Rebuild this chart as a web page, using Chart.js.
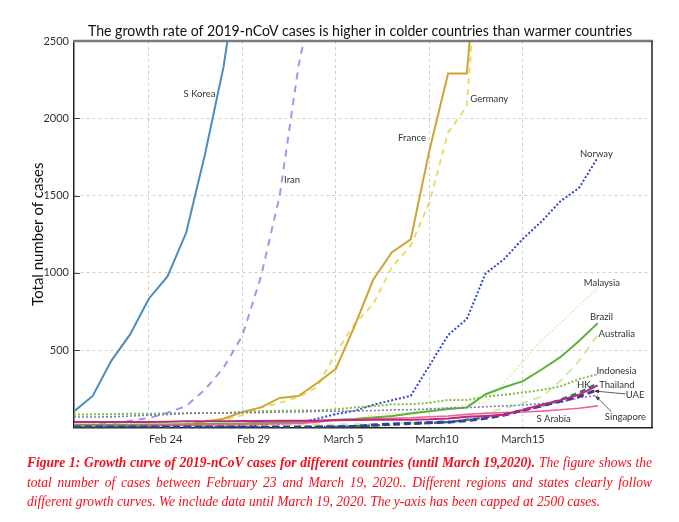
<!DOCTYPE html>
<html>
<head>
<meta charset="utf-8">
<script src="https://cdn.jsdelivr.net/npm/chart.js@4.4.1/dist/chart.umd.min.js"></script>
<style>
    body { margin: 0; background: #fff; width: 679px; height: 522px; overflow: hidden; position: relative; }
    #wrap { position: absolute; left: 0; top: 0; width: 679px; height: 455px; }
    #cap { position: absolute; left: 27px; top: 453px; width: 625px; color: #f0101e;
           font-family: 'Liberation Serif', serif; font-style: italic; font-size: 14.5px; line-height: 19.5px; }
    #cap .in { transform-origin: 0 0; }
    #cap .ln { text-align: justify; text-align-last: justify; white-space: nowrap; }
    #cap .ln.last { text-align: left; text-align-last: left; }
</style>
</head>
<body>
<div id="wrap"><canvas id="chart" width="679" height="455"></canvas></div>
<div id="cap"><div class="in" id="capIn">
    <div class="ln"><b>Figure 1: Growth curve of 2019-nCoV cases for different countries (until March 19,2020).</b> The figure shows the</div>
    <div class="ln">total number of cases between February 23 and March 19, 2020.. Different regions and states clearly follow</div>
    <div class="ln last"><span id="line3">different growth curves. We include data until March 19, 2020. The y-axis has been capped at 2500 cases.</span></div>
</div></div>
<script>
// days on the x axis (index 0 = Feb 20)
const dates = ['Feb 20', 'Feb 21', 'Feb 22', 'Feb 23', 'Feb 24', 'Feb 25', 'Feb 26', 'Feb 27', 'Feb 28', 'Feb 29',
    'Mar 1', 'Mar 2', 'Mar 3', 'Mar 4', 'Mar 5', 'Mar 6', 'Mar 7', 'Mar 8', 'Mar 9', 'Mar 10',
    'Mar 11', 'Mar 12', 'Mar 13', 'Mar 14', 'Mar 15', 'Mar 16', 'Mar 17', 'Mar 18', 'Mar 19'];
const gridDays = [4, 9, 14, 19, 24];
const tickLabels = ['Feb 24', 'Feb 29', 'March 5', 'March10', 'March15'];
const tickLabelDays = [4.9, 9.6, 14.4, 19.4, 24.0];
const yTicks = [0, 500, 1000, 1500, 2000, 2500];

// total cases per day
const sKorea = [104, 204, 433, 602, 833, 977, 1261, 1766, 2337, 3150, 3736, 4335, 5186, 5621, 6088, 6593, 7041, 7314, 7478, 7513, 7755, 7869, 7979, 8086, 8162, 8236, 8320, 8413, 8565];
const iran = [5, 18, 28, 43, 61, 95, 139, 245, 388, 593, 978, 1501, 2336, 2922, 3513, 4747, 5823, 6566, 7161, 8042, 9000, 10075, 11364, 12729, 13938, 14991, 16169, 17361, 18407];
const france = [12, 12, 12, 12, 12, 14, 18, 38, 57, 100, 130, 191, 204, 288, 380, 656, 957, 1134, 1217, 1792, 2290, 2290, 3672, 4480, 4513, 6650, 7652, 9043, 10871];
const germany = [16, 16, 16, 16, 16, 17, 27, 46, 48, 79, 130, 159, 196, 262, 482, 670, 799, 1040, 1176, 1457, 1908, 2078, 3675, 4585, 5795, 7272, 9257, 12327, 15320];
const norway = [0, 0, 0, 0, 0, 0, 1, 1, 6, 15, 19, 25, 32, 56, 87, 108, 147, 176, 205, 400, 598, 702, 996, 1090, 1221, 1333, 1463, 1550, 1746];
const malaysia = [22, 22, 22, 22, 22, 22, 22, 22, 23, 25, 29, 29, 29, 36, 50, 55, 83, 93, 99, 117, 129, 149, 160, 290, 428, 566, 673, 790, 900];
const brazil = [18, 18, 18, 18, 19, 20, 21, 22, 24, 26, 30, 35, 37, 42, 50, 55, 65, 75, 90, 105, 120, 130, 215, 260, 300, 375, 455, 560, 675];
const australia = [15, 15, 15, 15, 15, 15, 15, 15, 15, 15, 16, 17, 18, 19, 20, 21, 22, 25, 30, 37, 55, 70, 92, 125, 157, 200, 300, 430, 600];
const indonesia = [84, 85, 86, 89, 89, 91, 93, 93, 93, 102, 106, 108, 110, 110, 117, 130, 138, 150, 150, 160, 178, 178, 200, 212, 226, 243, 266, 313, 345];
const hk = [2, 2, 2, 2, 2, 2, 2, 2, 2, 2, 2, 2, 2, 3, 4, 6, 12, 18, 24, 30, 35, 50, 65, 85, 110, 140, 180, 225, 285];
const thailand = [35, 35, 35, 35, 35, 37, 40, 40, 41, 42, 42, 43, 43, 43, 47, 48, 50, 50, 50, 53, 59, 70, 75, 82, 114, 147, 177, 212, 272];
const uae = [3, 3, 3, 3, 3, 3, 3, 3, 3, 3, 3, 3, 3, 4, 5, 8, 16, 22, 27, 31, 34, 45, 59, 80, 113, 140, 170, 200, 245];
const singapore = [68, 68, 69, 74, 79, 84, 91, 92, 94, 95, 96, 100, 100, 105, 105, 107, 109, 114, 115, 120, 126, 129, 134, 140, 145, 155, 162, 192, 208];
const sArabia = [10, 10, 10, 10, 12, 14, 15, 16, 18, 20, 22, 25, 27, 35, 48, 52, 56, 60, 63, 70, 74, 85, 92, 96, 100, 106, 115, 125, 140];

// text next to the curves, anchored in data units (day, cases)
const curveLabels = [
    { text: 'S Korea', day: 6.71, value: 2157 },
    { text: 'Iran', day: 11.66, value: 1600 },
    { text: 'France', day: 18.07, value: 1872 },
    { text: 'Germany', day: 22.2, value: 2125 },
    { text: 'Norway', day: 27.93, value: 1769 },
    { text: 'Malaysia', day: 28.22, value: 937 },
    { text: 'Brazil', day: 28.2, value: 715 },
    { text: 'Australia', day: 29.02, value: 607 },
    { text: 'Indonesia', day: 29.0, value: 367 },
    { text: 'HK', day: 27.25, value: 277 },
    { text: 'Thailand', day: 29.02, value: 277 },
    { text: 'UAE', day: 30.0, value: 212 },
    { text: 'Singapore', day: 29.48, value: 68 },
    { text: 'S Arabia', day: 25.64, value: 53 }
];
const arrows = [
    { from: [29.48, 217], to: [27.82, 236] },
    { from: [28.73, 102], to: [27.88, 204] }
];

function series(label, values, color, width, dash) {
    return {
        label: label,
        data: values.map((v, i) => ({ x: i, y: v })),
        borderColor: color,
        borderWidth: width,
        borderDash: dash || [],
        pointRadius: 0,
        tension: 0,
        fill: false
    };
}

const datasets = [
    series('Thailand', thailand, '#c3267e', 2),
    series('UAE', uae, '#3b3b9e', 3, [7, 4]),
    series('HK', hk, '#2d7a68', 2.5, [6, 4]),
    series('S Arabia', sArabia, '#f0609a', 1.6),
    series('Singapore', singapore, '#7c7cb4', 1.6, [2, 2]),
    series('Indonesia', indonesia, '#7dbf40', 2, [2, 2]),
    series('Brazil', brazil, '#58b33a', 2),
    series('Australia', australia, '#cfeaa2', 2, [8, 6]),
    series('Malaysia', malaysia, '#e2ea90', 1.6, [1.5, 2]),
    series('Norway', norway, '#2a46d6', 2, [2, 2]),
    series('France', france, '#cca633', 2),
    series('Germany', germany, '#e8dc6c', 2, [6, 5]),
    series('Iran', iran, '#a493f0', 2, [7, 6]),
    series('S Korea', sKorea, '#4a8cc4', 2)
];

const decor = {
    id: 'decor',
    afterDatasetsDraw(chart) {
        const { ctx, chartArea: a, scales: { x, y } } = chart;
        ctx.save();
        // frame: grey top, dark right
        ctx.strokeStyle = '#7a7a7a';
        ctx.lineWidth = 2.5;
        ctx.beginPath(); ctx.moveTo(a.left - 1, a.top); ctx.lineTo(a.right + 1, a.top); ctx.stroke();
        ctx.strokeStyle = '#222';
        ctx.lineWidth = 1.5;
        ctx.beginPath(); ctx.moveTo(a.right, a.top); ctx.lineTo(a.right, a.bottom); ctx.stroke();
        // inward tick marks on the y axis
        ctx.strokeStyle = '#444';
        ctx.lineWidth = 1;
        yTicks.slice(1, -1).forEach(v => {
            const py = Math.round(y.getPixelForValue(v)) + 0.5;
            ctx.beginPath(); ctx.moveTo(a.left, py); ctx.lineTo(a.left + 6, py); ctx.stroke();
        });
        // curve names
        ctx.fillStyle = '#333';
        ctx.font = '9.5px Lato, sans-serif';
        ctx.textAlign = 'center';
        ctx.textBaseline = 'middle';
        curveLabels.forEach(l => {
            ctx.fillText(l.text, x.getPixelForValue(l.day), y.getPixelForValue(l.value));
        });
        // pointer arrows
        ctx.strokeStyle = '#333';
        ctx.lineWidth = 0.8;
        arrows.forEach(ar => {
            const x1 = x.getPixelForValue(ar.from[0]), y1 = y.getPixelForValue(ar.from[1]);
            const x2 = x.getPixelForValue(ar.to[0]), y2 = y.getPixelForValue(ar.to[1]);
            ctx.beginPath(); ctx.moveTo(x1, y1); ctx.lineTo(x2, y2); ctx.stroke();
            const ang = Math.atan2(y2 - y1, x2 - x1);
            ctx.beginPath();
            ctx.moveTo(x2, y2);
            ctx.lineTo(x2 - 5 * Math.cos(ang - 0.4), y2 - 5 * Math.sin(ang - 0.4));
            ctx.lineTo(x2 - 5 * Math.cos(ang + 0.4), y2 - 5 * Math.sin(ang + 0.4));
            ctx.closePath();
            ctx.fill();
        });
        ctx.restore();
    },
    afterDraw(chart) {
        const { ctx } = chart;
        const title = 'The growth rate of 2019-nCoV cases is higher in colder countries than warmer countries';
        ctx.save();
        ctx.font = '15.5px Lato, sans-serif';
        ctx.fillStyle = '#111';
        ctx.textBaseline = 'alphabetic';
        const w = ctx.measureText(title).width;
        const target = 544;
        ctx.translate(88, 36);
        ctx.scale(target / w, 1);
        ctx.fillText(title, 0, 0);
        ctx.restore();
    }
};

new Chart(document.getElementById('chart'), {
    type: 'line',
    data: { datasets: datasets },
    plugins: [decor],
    options: {
        responsive: false,
        animation: false,
        events: [],
        layout: { padding: { top: 41, right: 27, bottom: 0, left: 0 } },
        plugins: { legend: { display: false }, tooltip: { enabled: false } },
        scales: {
            x: {
                type: 'linear',
                position: 'bottom',
                weight: 0,
                min: 0,
                max: 30.9,
                afterBuildTicks: s => { s.ticks = gridDays.map(v => ({ value: v })); },
                afterFit: s => { s.height = 0; },
                ticks: { display: false },
                grid: { color: '#cfcfcf', lineWidth: 1, drawTicks: false },
                border: { display: true, color: '#222', width: 1.5, dash: [3, 3] }
            },
            x2: {
                type: 'linear',
                position: 'bottom',
                weight: 1,
                min: 0,
                max: 30.9,
                afterBuildTicks: s => { s.ticks = tickLabelDays.map(v => ({ value: v })); },
                afterFit: s => { s.height = 27.5; },
                ticks: {
                    autoSkip: false,
                    maxRotation: 0,
                    padding: 5,
                    color: '#333',
                    font: { family: 'Lato, sans-serif', size: 11 },
                    callback: (v) => tickLabels[tickLabelDays.indexOf(v)]
                },
                grid: { display: false, drawTicks: false },
                border: { display: false }
            },
            y: {
                min: 0,
                max: 2500,
                afterBuildTicks: s => { s.ticks = yTicks.map(v => ({ value: v })); },
                afterFit: s => { s.width = 74; },
                ticks: {
                    padding: 5,
                    color: '#333',
                    font: { family: 'Lato, sans-serif', size: 11 },
                    callback: v => (v === 0 ? '' : String(v))
                },
                grid: {
                    drawTicks: false,
                    lineWidth: 1,
                    color: c => (c.tick && (c.tick.value === 0 || c.tick.value === 2500)) ? 'rgba(0,0,0,0)' : '#cfcfcf'
                },
                border: { display: true, color: '#222', width: 1.5, dash: [3, 3] },
                title: {
                    display: true,
                    text: 'Total number of cases',
                    color: '#111',
                    font: { family: 'Lato, sans-serif', size: 15 },
                    padding: { top: 29, bottom: 0 }
                }
            }
        }
    }
});

// caption: squeeze horizontally like the original typesetting
const line3 = document.getElementById('line3');
const scale = Math.min(1, 573 / line3.getBoundingClientRect().width);
const capIn = document.getElementById('capIn');
capIn.style.width = (625 / scale) + 'px';
capIn.style.transform = 'scaleX(' + scale + ')';
</script>
</body>
</html>
